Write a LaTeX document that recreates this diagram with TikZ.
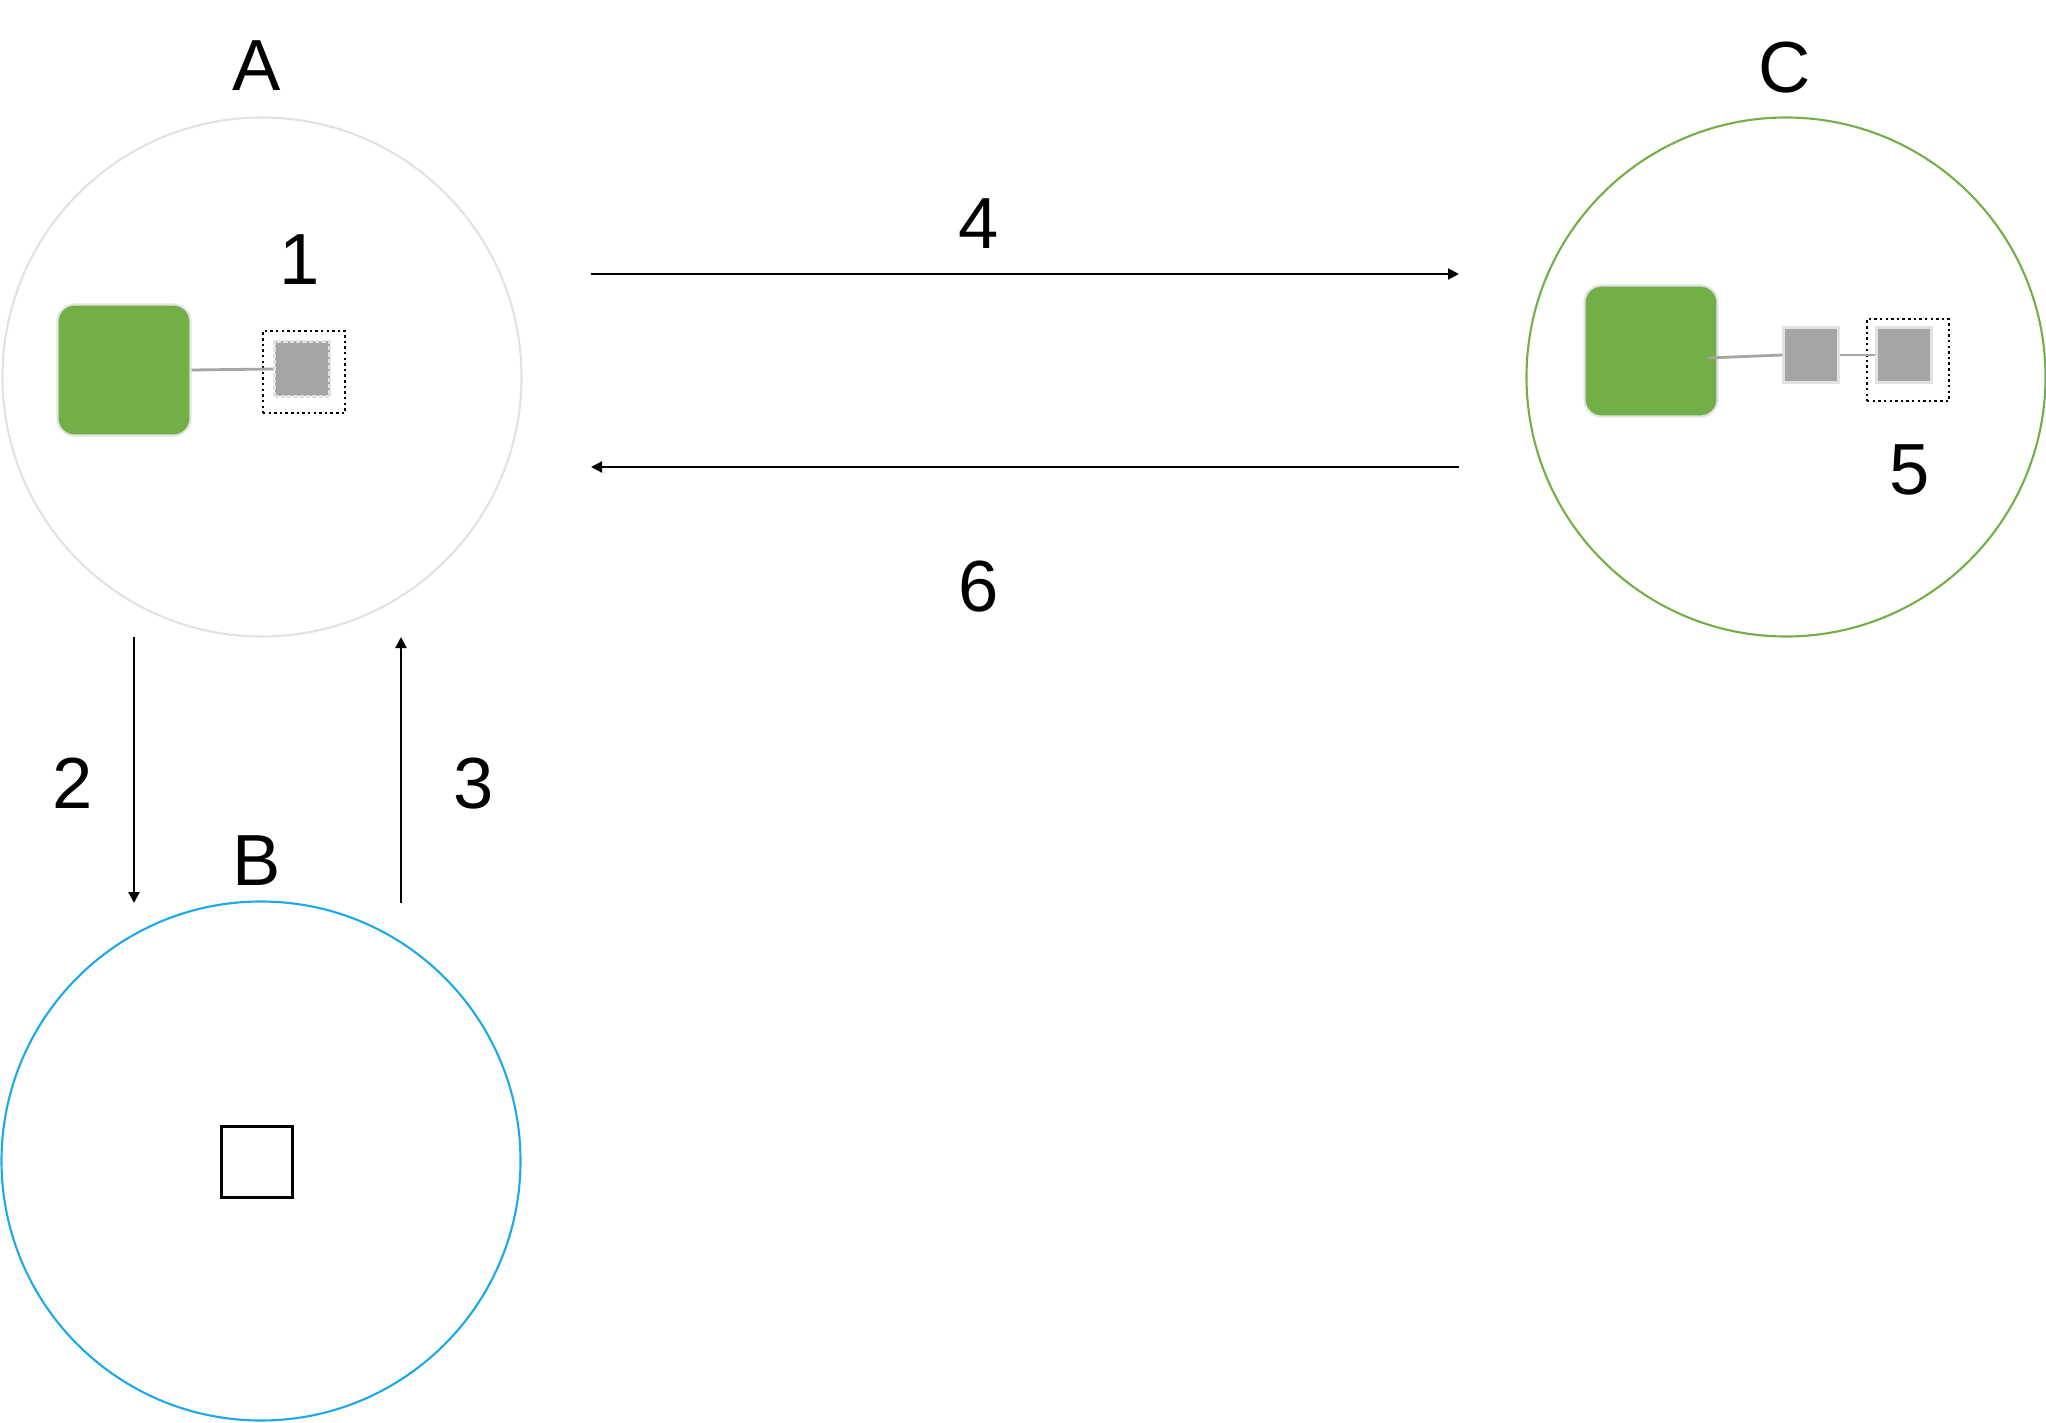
\documentclass[tikz,border=0pt]{standalone}
\usepackage{fontspec}
\setmainfont{Liberation Sans}
\usepackage{xcolor}
\usetikzlibrary{arrows.meta,positioning}
\definecolor{leafgreen}{HTML}{72AF47}
\definecolor{boxgray}{HTML}{A5A5A5}
\definecolor{ringgray}{HTML}{E2E2E2}
\definecolor{skyblue}{HTML}{1CA9E9}

\begin{document}
\begin{tikzpicture}
  [
    Ring/.style={circle, draw=#1, line width=0.6pt, minimum size=51.9mm, inner sep=0pt},
    Host/.style={rectangle, rounded corners=1.7mm, draw=ringgray, fill=leafgreen, line width=0.6pt,
      minimum width=13.3mm, minimum height=13.1mm, inner sep=0pt},
    Part/.style={rectangle, draw=ringgray, fill=boxgray, line width=0.6pt, minimum size=5.5mm, inner sep=0pt},
    Pick/.style={rectangle, draw=black, line width=0.7pt, dash pattern=on 0.7pt off 0.9pt,
      minimum size=8.2mm, inner sep=0pt},
    Tag/.style={font=\fontsize{20.6}{24}\selectfont, inner sep=0pt},
    Flow/.style={draw, line width=0.6pt, -{Triangle[length=1.1mm, width=1.1mm]}}
  ]
  \useasboundingbox (0,0) rectangle (20.46,14.22);
  % Nodes
  \node[Ring=ringgray] (A) at (2.62, 10.45) {};
  \node[Ring=skyblue] (B) at (2.61, 2.61) {};
  \node[Ring=leafgreen] (C) at (17.86, 10.45) {};
  \node[Tag] (tA) at (2.57, 13.56) {A};
  \node[Tag] (tB) at (2.57, 5.61) {B};
  \node[Tag] (tC) at (17.85, 13.54) {C};
  % inside A
  \node[Host] (hostA) at (1.24, 10.52) {};
  \node[Pick] (pickA) at (3.04, 10.50) {};
  \node[Part, dash pattern=on 1.2pt off 0.6pt] (partA) at (3.02, 10.53) {};
  % inside B
  \node[rectangle, draw=black, line width=1pt, minimum size=7.1mm, inner sep=0pt] (emptyB) at (2.57, 2.60) {};
  % inside C
  \node[Host] (hostC) at (16.51, 10.71) {};
  \node[Part] (partC) at (18.11, 10.67) {};
  \node[Pick] (pickC) at (19.08, 10.62) {};
  \node[Part] (copyC) at (19.04, 10.67) {};
  % step numbers
  \node[Tag] (s1) at (3.00, 11.62) {1};
  \node[Tag] (s2) at (0.73, 6.39) {2};
  \node[Tag] (s3) at (4.74, 6.38) {3};
  \node[Tag] (s4) at (9.79, 11.98) {4};
  \node[Tag] (s5) at (19.10, 9.52) {5};
  \node[Tag] (s6) at (9.79, 8.35) {6};
  \coordinate (goL) at (5.91, 11.48);
  \coordinate (goR) at (14.59, 11.48);
  \coordinate (backR) at (14.59, 9.55);
  \coordinate (backL) at (5.91, 9.55);
  \coordinate (downT) at (1.34, 7.85);
  \coordinate (downB) at (1.34, 5.19);
  \coordinate (upB) at (4.01, 5.19);
  \coordinate (upT) at (4.01, 7.85);
  % Lines
  \path [draw, boxgray, line width=0.8pt] (hostA.east) -- (partA.west);
  \path [draw, boxgray, line width=0.8pt] ([xshift=-1.1mm, yshift=-0.7mm]hostC.east) -- (partC.west);
  \path [draw, boxgray, line width=0.8pt] (partC.east) -- (copyC.west);
  \path [Flow] (goL) -- (goR);
  \path [Flow] (backR) -- (backL);
  \path [Flow] (downT) -- (downB);
  \path [Flow] (upB) -- (upT);
\end{tikzpicture}
\end{document}
